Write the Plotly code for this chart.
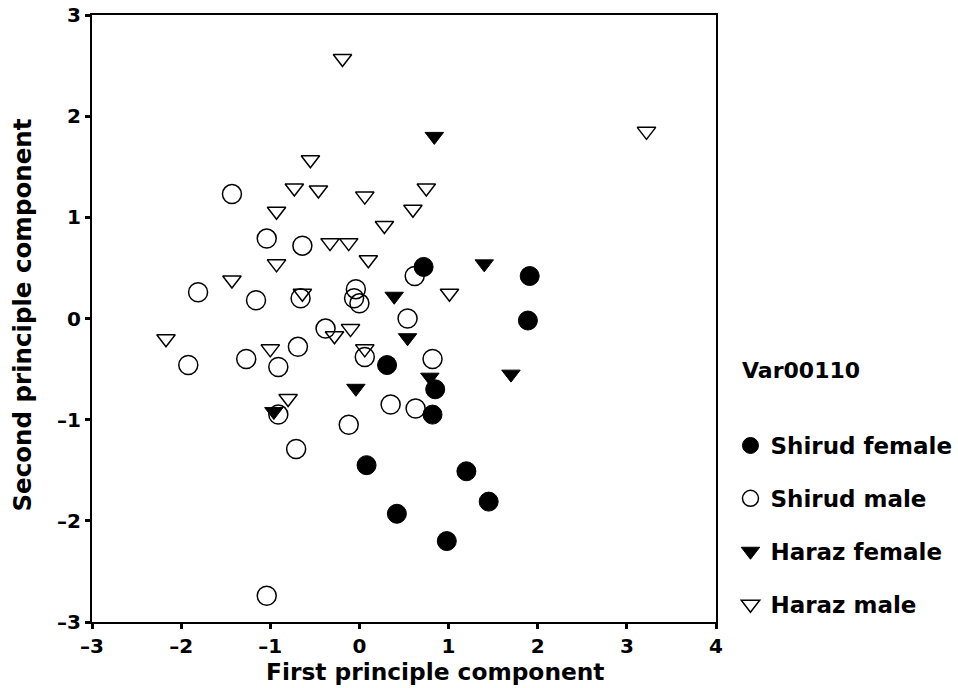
import plotly.graph_objects as go

# Shirud female
sf_x = [0.72, 1.91, 1.89, 0.31, 0.85, 0.82, 0.08, 1.20, 1.45, 0.42, 0.98]
sf_y = [0.51, 0.42, -0.02, -0.46, -0.70, -0.95, -1.45, -1.51, -1.81, -1.93, -2.20]

# Shirud male
sm_x = [-1.43, -1.04, -0.64, -1.81, -1.16, -0.66, -0.04, -0.06, 0.00, 0.62, 0.54, -0.38,
        -1.92, -1.27, -0.91, -0.69, 0.06, 0.82, -0.91, -0.71, -0.12, 0.35, 0.63, -1.04]
sm_y = [1.23, 0.79, 0.72, 0.26, 0.18, 0.20, 0.29, 0.20, 0.15, 0.42, 0.00, -0.10,
        -0.46, -0.40, -0.48, -0.28, -0.38, -0.40, -0.95, -1.29, -1.05, -0.85, -0.89, -2.74]

# Haraz female
hf_x = [0.84, 1.40, 0.39, 0.54, -0.04, -0.96, 1.70, 0.79]
hf_y = [1.80, 0.54, 0.22, -0.19, -0.69, -0.92, -0.55, -0.58]

# Haraz male
hm_x = [-0.19, -0.55, -0.73, -0.46, 0.06, 0.60, 0.75, -0.93, 0.28, -0.33, -0.12, 0.10,
        -0.93, -1.43, -0.64, 1.01, -0.10, -0.28, -2.17, -1.00, 0.06, -0.80, 3.22]
hm_y = [2.57, 1.57, 1.29, 1.27, 1.21, 1.08, 1.29, 1.06, 0.92, 0.75, 0.75, 0.58,
        0.54, 0.38, 0.25, 0.25, -0.10, -0.17, -0.20, -0.30, -0.30, -0.79, 1.85]

x_ticks = [-3, -2, -1, 0, 1, 2, 3, 4]
x_ticktext = ["–3", "–2", "–1", "0", "1", "2", "3", "4"]
y_ticks = [-3, -2, -1, 0, 1, 2, 3]
y_ticktext = ["–3", "–2", "–1", "0", "1", "2", "3"]
x_title = "First principle component"
y_title = "Second principle component"
legend_title = "Var00110"

FONT = "DejaVu Sans"

fig = go.Figure()
fig.add_trace(go.Scatter(x=sf_x, y=sf_y, mode="markers", name="<b>Shirud female</b>",
                         legendgroup="a",
                         marker=dict(symbol="circle", size=19, color="black",
                                     line=dict(color="black", width=1))))
fig.add_trace(go.Scatter(x=sm_x, y=sm_y, mode="markers", name="<b>Shirud male</b>",
                         legendgroup="b",
                         marker=dict(symbol="circle-open", size=19, color="black",
                                     line=dict(color="black", width=1.5))))
fig.add_trace(go.Scatter(x=hf_x, y=hf_y, mode="markers", name="<b>Haraz female</b>",
                         legendgroup="c",
                         marker=dict(symbol="triangle-down", size=16, color="black",
                                     line=dict(color="black", width=1))))
fig.add_trace(go.Scatter(x=hm_x, y=hm_y, mode="markers", name="<b>Haraz male</b>",
                         legendgroup="d",
                         marker=dict(symbol="triangle-down-open", size=16, color="black",
                                     line=dict(color="black", width=1.5))))

axis_common = dict(showgrid=False, zeroline=False, showline=True, linecolor="black",
                   linewidth=2, mirror=True, ticks="outside", ticklen=5, tickwidth=3,
                   tickcolor="black", automargin=False,
                   tickfont=dict(family=FONT, size=20, color="black", weight="bold"))

fig.update_xaxes(range=[-3, 4], tickvals=x_ticks, ticktext=x_ticktext, **axis_common)
fig.update_yaxes(range=[-3, 3], tickvals=y_ticks, ticktext=y_ticktext, **axis_common)

fig.add_annotation(text="<b>" + x_title + "</b>", xref="paper", yref="paper",
                   x=0.551, y=-0.081, xanchor="center", yanchor="middle", showarrow=False,
                   font=dict(family=FONT, size=23.3, color="black"))
fig.add_annotation(text="<b>" + y_title + "</b>", xref="paper", yref="paper",
                   x=-0.112, y=0.505, xanchor="center", yanchor="middle", showarrow=False,
                   textangle=-90,
                   font=dict(family=FONT, size=24.5, color="black"))
fig.add_annotation(text="<b>" + legend_title + "</b>", xref="paper", yref="paper",
                   x=1.0385, y=0.415, xanchor="left", yanchor="middle", showarrow=False,
                   font=dict(family=FONT, size=22, color="black"))

fig.update_layout(
    width=958, height=688,
    margin=dict(l=92, r=242, t=15, b=66),
    plot_bgcolor="white", paper_bgcolor="white",
    font=dict(family=FONT, color="black"),
    legend=dict(xref="container", yref="container", x=0.7625, y=0.3837,
                xanchor="left", yanchor="top",
                font=dict(family=FONT, size=23, color="black"),
                tracegroupgap=20, itemsizing="trace", bgcolor="rgba(0,0,0,0)"),
)

fig.write_html("out.html", config={"displayModeBar": False},
               post_script="document.body.style.margin='0';")
